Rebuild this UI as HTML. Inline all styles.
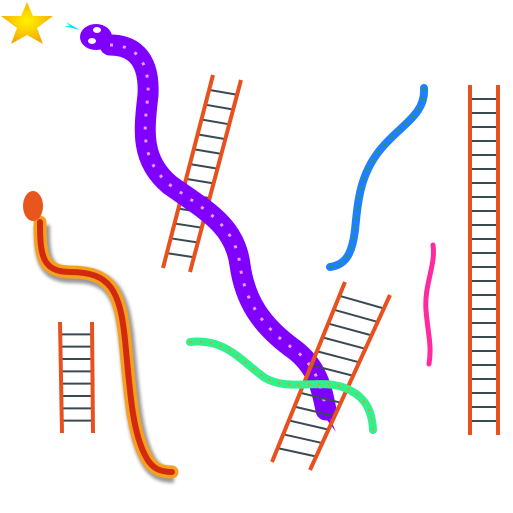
<!DOCTYPE html>
<html><head><meta charset="utf-8"><style>html,body{margin:0;background:#fff}svg{display:block}</style></head>
<body>
<svg id="s" width="513" height="513" viewBox="0 0 513 513">
<defs>
<radialGradient id="sg" cx="50%" cy="45%" r="55%"><stop offset="0" stop-color="#fff200"/><stop offset="1" stop-color="#f5a800"/></radialGradient>
<filter id="sh"><feGaussianBlur stdDeviation="1.5"/></filter>
</defs>
<polygon fill="url(#sg)" points="27,2 33,16 53,16 37,28 43,44 27,35 11,44 17,28 1,16 21,16"/>

<g id="l1"></g>

<g>
<path d="M110,45 C130,45 150,55 148,95 C144,130 140,160 170,185 C205,210 235,225 240,265 C245,300 260,325 295,350 C318,368 322,390 326,410" stroke="#8000ff" stroke-width="21" fill="none" stroke-linecap="round"/>
<path d="M322,400 L336,432 L318,408 Z" fill="#8000ff"/>
<path d="M110,45 C130,45 150,55 148,95 C144,130 140,160 170,185 C205,210 235,225 240,265 C245,300 260,325 295,350 C318,368 322,390 326,410" stroke="#e69cf0" stroke-width="3" stroke-dasharray="3 10" fill="none"/>
<ellipse cx="96" cy="37" rx="16" ry="13" fill="#8000ff"/>
<ellipse cx="97" cy="30" rx="4" ry="3" fill="#fff"/><ellipse cx="92" cy="41" rx="4" ry="3" fill="#fff"/>
<path d="M80,30 L66,22 L70,26 L64,26 Z" fill="#00e0ff"/>
</g>

<g id="l2"></g>
<g id="l3"></g>
<g id="l4"></g>

<g>
<path d="M424,88 C426,115 400,125 380,150 C360,175 358,200 355,230 C352,255 345,265 330,267" stroke="#1e7fff" stroke-width="8" fill="none" stroke-linecap="round"/>
<path d="M424,88 C426,115 400,125 380,150 C360,175 358,200 355,230 C352,255 345,265 330,267" stroke="#2ca02c" stroke-width="2" stroke-dasharray="3 7" fill="none"/>
</g>
<g>
<path d="M433,245 C436,265 424,285 426,310 C428,335 432,345 429,364" stroke="#ff2aa0" stroke-width="5" fill="none" stroke-linecap="round"/>
</g>
<g>
<path d="M190,342 C225,338 240,360 265,378 C290,392 320,378 345,388 C365,396 372,410 373,430" stroke="#33f08f" stroke-width="8" fill="none" stroke-linecap="round"/>
<path d="M190,342 C225,338 240,360 265,378 C290,392 320,378 345,388 C365,396 372,410 373,430" stroke="#d6a020" stroke-width="2" stroke-dasharray="2 8" fill="none"/>
</g>
<g>
<path d="M40,222 C40,255 42,272 70,272 C110,272 120,290 125,340 C130,390 132,430 145,455 C152,470 162,472 172,472" stroke="#999" stroke-width="16" fill="none" filter="url(#sh)" transform="translate(2,3)"/>
<path d="M40,222 C40,255 42,272 70,272 C110,272 120,290 125,340 C130,390 132,430 145,455 C152,470 162,472 172,472" stroke="#f7a020" stroke-width="13" fill="none" stroke-linecap="round"/>
<path d="M40,222 C40,255 42,272 70,272 C110,272 120,290 125,340 C130,390 132,430 145,455 C152,470 162,472 172,472" stroke="#d22a10" stroke-width="6" fill="none" stroke-linecap="round"/>
<ellipse cx="33" cy="206" rx="10" ry="15" fill="#e8561e"/>
</g>
</svg>
<script>
const ladderRungs=[12,12,8,24];
const ladders=[
 {id:'l1',a:[213,75,163,268],b:[241,80,190,272]},
 {id:'l2',a:[345,282,272,462],b:[390,295,310,470]},
 {id:'l3',a:[60,322,62,433],b:[92,322,93,433]},
 {id:'l4',a:[470,85,470,435],b:[498,85,498,435]}];
const NS='http://www.w3.org/2000/svg';
ladders.forEach((L,k)=>{
 const g=document.getElementById(L.id);const n=ladderRungs[k];
 for(let i=1;i<=n;i++){const t=i/(n+1);
  const r=document.createElementNS(NS,'line');
  
  
  r.setAttribute('x1',L.a[0]+(L.a[2]-L.a[0])*t);r.setAttribute('y1',L.a[1]+(L.a[3]-L.a[1])*t);
  r.setAttribute('x2',L.b[0]+(L.b[2]-L.b[0])*t);r.setAttribute('y2',L.b[1]+(L.b[3]-L.b[1])*t);
  r.setAttribute('stroke','#3a4a52');r.setAttribute('stroke-width','2');g.appendChild(r);}
 [L.a,L.b].forEach(p=>{const r=document.createElementNS(NS,'line');
  
  
  r.setAttribute('x1',p[0]);r.setAttribute('y1',p[1]);r.setAttribute('x2',p[2]);r.setAttribute('y2',p[3]);
  r.setAttribute('stroke','#e8501e');r.setAttribute('stroke-width','4');g.appendChild(r);});
});
</script>
</body></html>
